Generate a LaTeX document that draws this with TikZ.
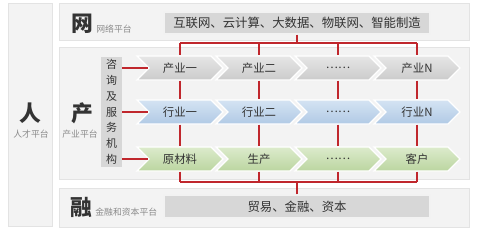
\documentclass[tikz,border=0pt]{standalone}
\usepackage{fontspec}
\setmainfont{Noto Sans CJK SC}
\usetikzlibrary{positioning, calc, shapes.symbols}
\definecolor{panelcol}{HTML}{F3F3F3}
\definecolor{panelline}{HTML}{E3E3E3}
\definecolor{barcol}{HTML}{D7D7D7}
\definecolor{linkcol}{HTML}{C0272D}
\definecolor{textcol}{HTML}{333333}
\definecolor{subcol}{HTML}{8A8A8A}
\definecolor{greytop}{HTML}{E6E6E6}
\definecolor{greybot}{HTML}{CBCBCB}
\definecolor{bluetop}{HTML}{D4E3F3}
\definecolor{bluebot}{HTML}{B1CAE5}
\definecolor{greentop}{HTML}{DCEBCC}
\definecolor{greenbot}{HTML}{BBD5A0}
\tikzset{
  panel/.style={fill=panelcol, draw=panelline, line width=0.6pt},
  bigchar/.style={font=\fontsize{15.5}{16}\selectfont\bfseries,
                  text=textcol, inner sep=0pt},
  subtitle/.style={font=\fontsize{6.3}{7}\selectfont, text=subcol,
                   inner sep=0pt},
  bar/.style={rectangle, fill=barcol, draw=black!5, line width=0.8pt,
              inner sep=0pt, text=textcol,
              font=\fontsize{8.8}{10}\selectfont},
  agency/.style={rectangle, fill=barcol, inner sep=0pt, align=center,
                 minimum width=0.525cm, minimum height=2.75cm,
                 text=textcol, font=\fontsize{7.8}{11.2}\selectfont},
  chev/.style={signal, signal from=west, signal to=east,
               signal pointer angle=90, minimum width=2.15cm,
               minimum height=0.6cm, inner sep=0pt, draw=white,
               line width=0.8pt, text=textcol,
               font=\fontsize{8.1}{9}\selectfont},
  grey chev/.style={chev, top color=greytop, bottom color=greybot},
  blue chev/.style={chev, top color=bluetop, bottom color=bluebot},
  green chev/.style={chev, top color=greentop, bottom color=greenbot},
  link/.style={draw=linkcol, line width=1.1pt},
}

\begin{document}
\begin{tikzpicture}[x=0.025cm, y=-0.025cm]
    \useasboundingbox (0,0) rectangle (479,238);

    % platforms
    \draw[panel] (8,3) rectangle (52,226);
    \draw[panel] (59,3) rectangle (469,40);
    \draw[panel] (59,47) rectangle (469,179);
    \draw[panel] (59,188) rectangle (469,227);

    \node[bigchar] (ren) at (30,113) {人};
    \node[subtitle] (ren_sub) at (31,134) {人才平台};
    \node[bigchar] (wang) at (82,24) {网};
    \node[subtitle, anchor=west] (wang_sub) at (96,29) {网络平台};
    \node[bigchar] (chan) at (82,113) {产};
    \node[subtitle] (chan_sub) at (80,134) {产业平台};
    \node[bigchar] (rong) at (81,207) {融};
    \node[subtitle, anchor=west] (rong_sub) at (95,212) {金融和资本平台};

    \node[bar, minimum width=6.65cm, minimum height=0.55cm] (tech) at (297,23) {互联网、云计算、大数据、物联网、智能制造};
    \node[bar, minimum width=6.65cm, minimum height=0.575cm] (money) at (297,206.5) {贸易、金融、资本};
    \node[agency] (agency) at (111.5,112) {咨\\询\\及\\服\\务\\机\\构};

    % chains
    \node[grey chev] (r1c1) at (180,68) {产业一};
    \node[grey chev] (r1c2) at (259,68) {产业二};
    \node[grey chev] (r1c3) at (338,68) {……};
    \node[grey chev] (r1c4) at (417,68) {产业N};
    \node[blue chev] (r2c1) at (180,112) {行业一};
    \node[blue chev] (r2c2) at (259,112) {行业二};
    \node[blue chev] (r2c3) at (338,112) {……};
    \node[blue chev] (r2c4) at (417,112) {行业N};
    \node[green chev] (r3c1) at (180,159) {原材料};
    \node[green chev] (r3c2) at (259,159) {生产};
    \node[green chev] (r3c3) at (338,159) {……};
    \node[green chev] (r3c4) at (417,159) {客户};

    % red links
    \coordinate (topbus) at (297,43);
    \coordinate (lowbus) at (297,182);
    \draw[link] (tech.south) -- (topbus);
    \draw[link] (r1c1.north |- topbus) -- (r1c4.north |- topbus);
    \draw[link] (money.north) -- (lowbus);
    \draw[link] (r3c1.south |- lowbus) -- (r3c4.south |- lowbus);
    \foreach \i in {1,...,4} {
        \draw[link] (r1c\i.north |- topbus) -- (r1c\i.north);
        \draw[link] (r1c\i.south) -- (r2c\i.north);
        \draw[link] (r2c\i.south) -- (r3c\i.north);
        \draw[link] (r3c\i.south) -- (r3c\i.south |- lowbus);
    }
    \foreach \r in {1,2,3}
        \draw[link] (agency.east |- r\r c1.west) -- (r\r c1.west);
\end{tikzpicture}
\end{document}
